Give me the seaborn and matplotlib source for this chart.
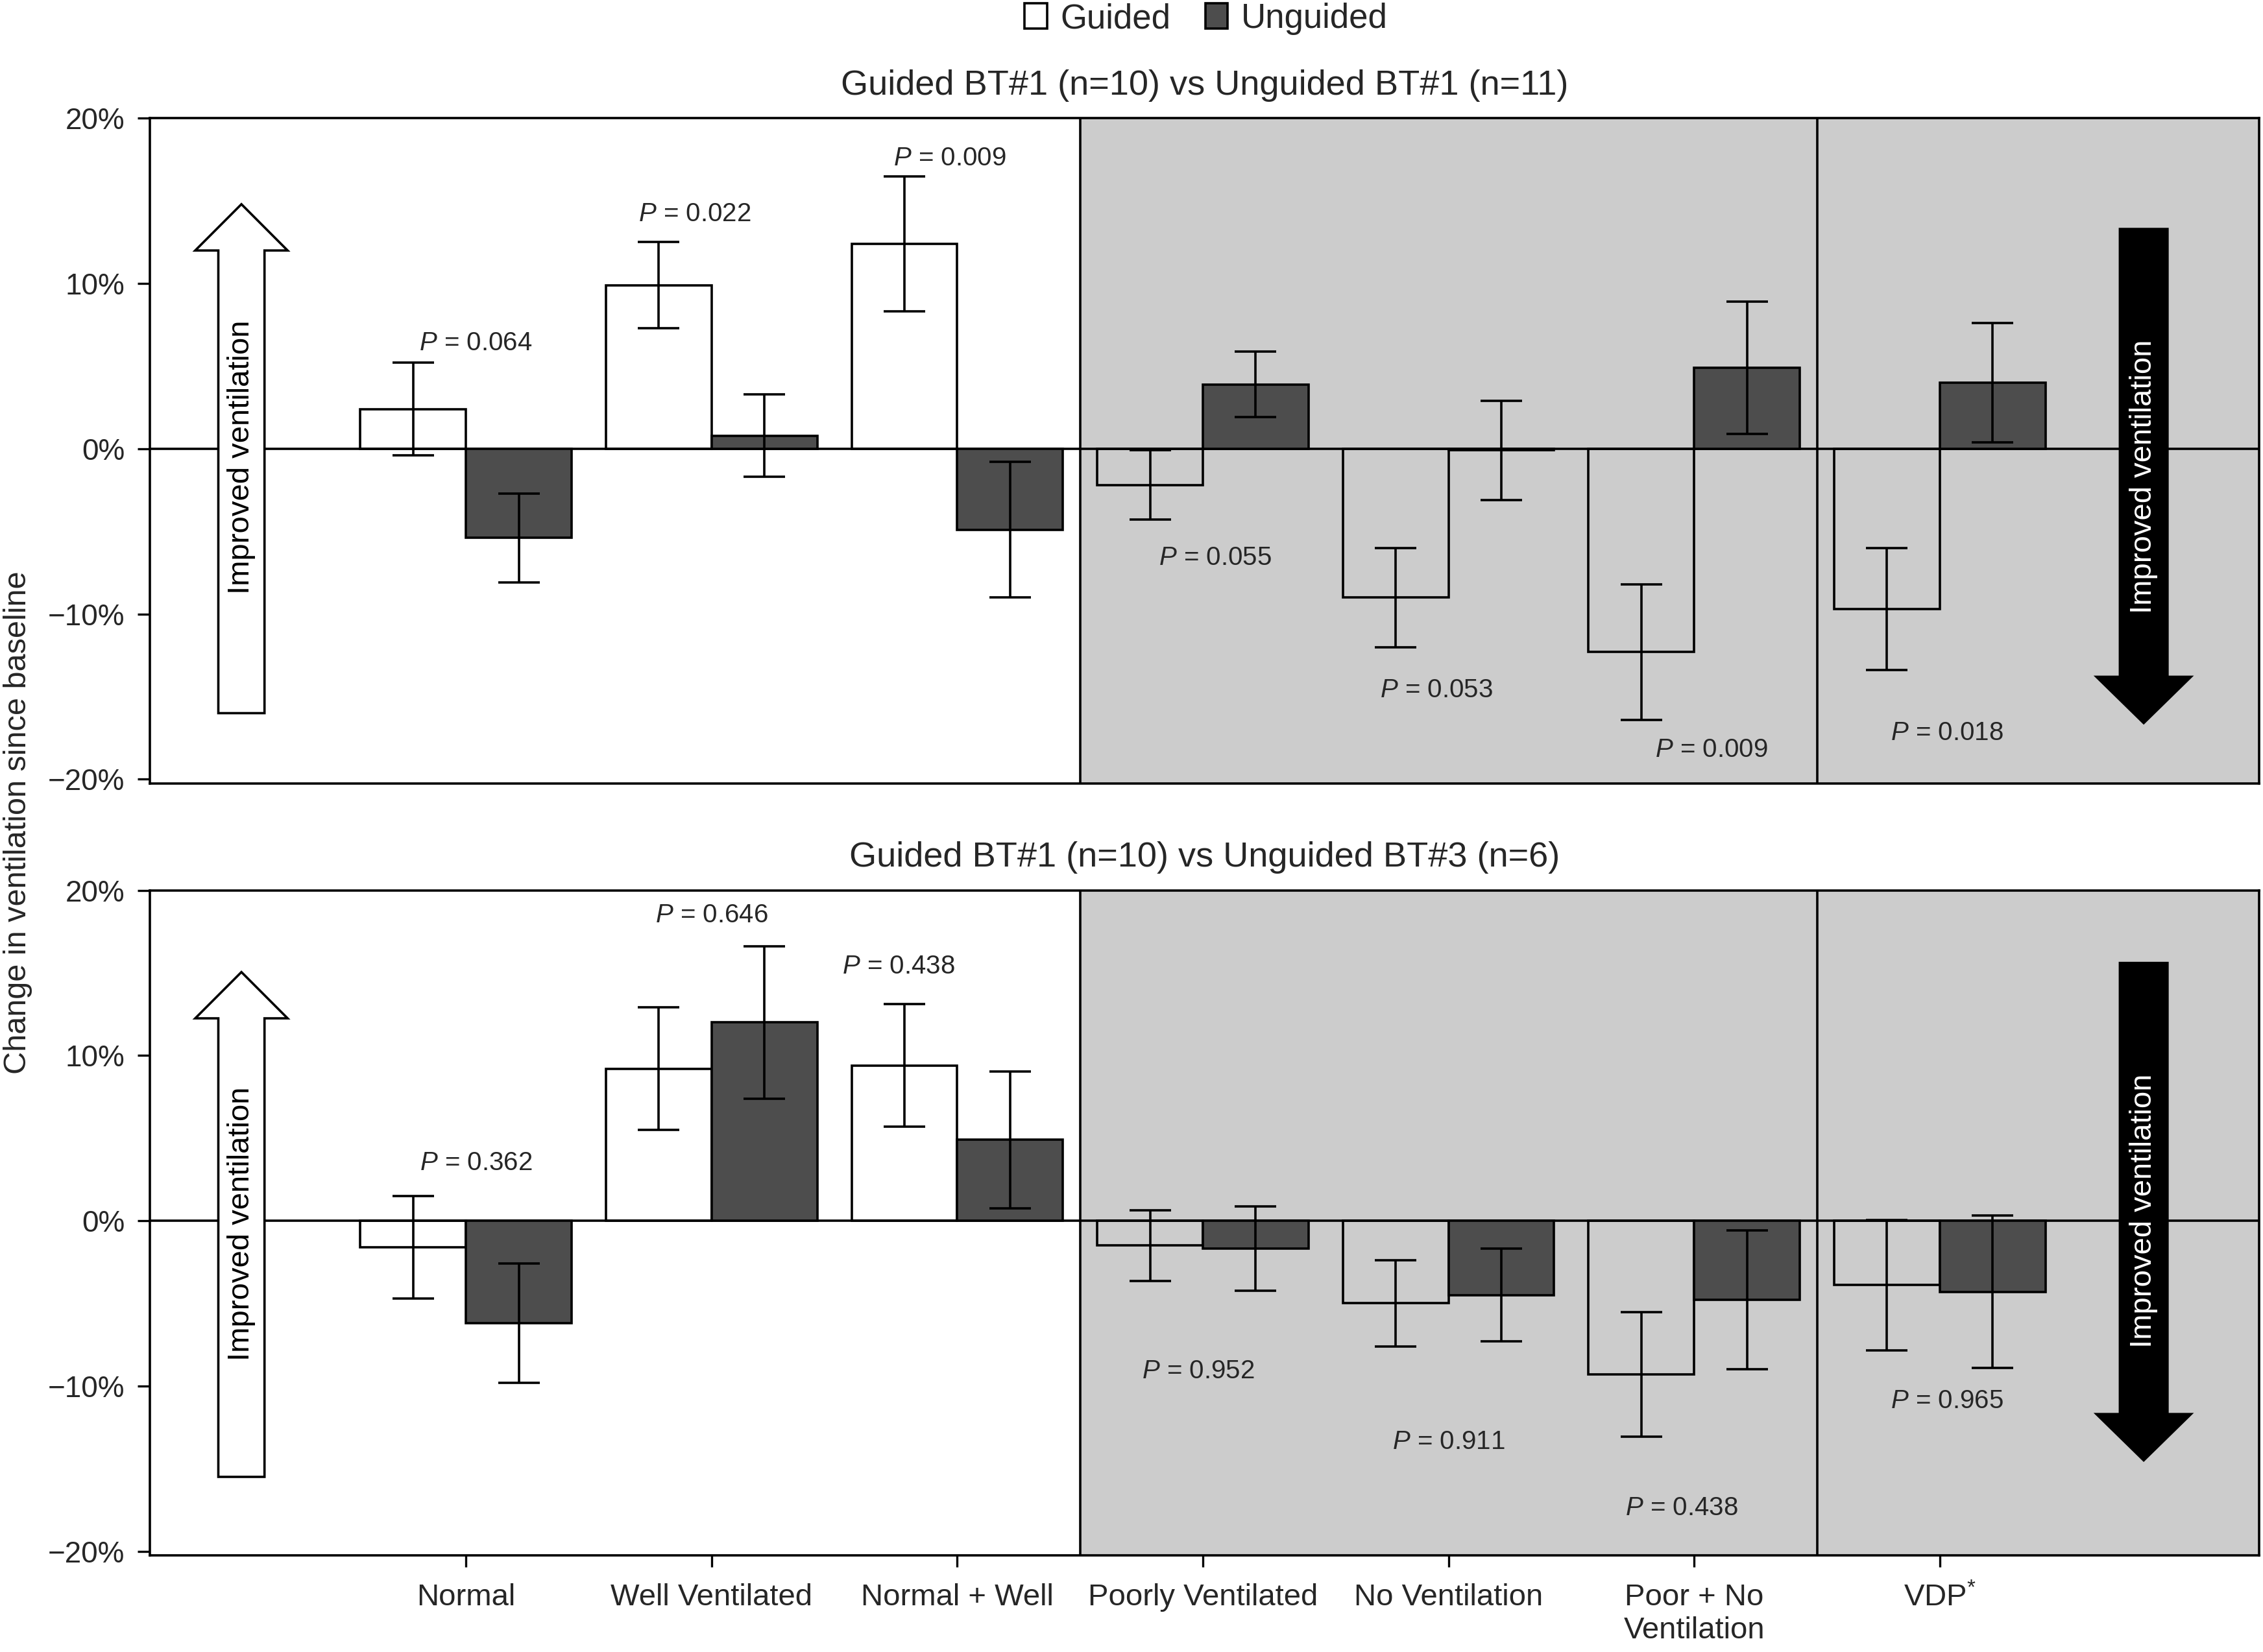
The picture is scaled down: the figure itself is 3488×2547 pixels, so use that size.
import matplotlib
matplotlib.use('Agg')
import pandas as pd
import matplotlib.pyplot as plt
from matplotlib.patches import Patch
from matplotlib.ticker import FuncFormatter
import seaborn as sns

sns.set_style('ticks')
plt.rcParams['font.family'] = ['Liberation Sans', 'DejaVu Sans']
plt.rcParams['mathtext.fontset'] = 'custom'
plt.rcParams['mathtext.rm'] = 'Liberation Sans'
plt.rcParams['mathtext.it'] = 'Liberation Sans:italic'

# categories
regions = ['Normal', 'Well Ventilated', 'Normal + Well', 'Poorly Ventilated',
           'No Ventilation', 'Poor + No\nVentilation', 'VDP$^{*}$']
groups = ['Guided', 'Unguided']

# top panel: Guided BT#1 vs Unguided BT#1 (% change since baseline)
top_guided = [2.4, 9.9, 12.4, -2.2, -9.0, -12.3, -9.7]
top_guided_err = [2.8, 2.6, 4.1, 2.1, 3.0, 4.1, 3.7]
top_unguided = [-5.4, 0.8, -4.9, 3.9, -0.1, 4.9, 4.0]
top_unguided_err = [2.7, 2.5, 4.1, 2.0, 3.0, 4.0, 3.6]
top_pvals = ['0.064', '0.022', '0.009', '0.055', '0.053', '0.009', '0.018']

# bottom panel: Guided BT#1 vs Unguided BT#3
bot_guided = [-1.6, 9.2, 9.4, -1.5, -5.0, -9.3, -3.9]
bot_guided_err = [3.1, 3.7, 3.7, 2.15, 2.6, 3.75, 3.95]
bot_unguided = [-6.2, 12.0, 4.9, -1.7, -4.5, -4.8, -4.3]
bot_unguided_err = [3.6, 4.6, 4.15, 2.55, 2.8, 4.2, 4.6]
bot_pvals = ['0.362', '0.646', '0.438', '0.952', '0.911', '0.438', '0.965']

# where the p-value labels sit (x offset from category, y in %)
top_p_pos = [(0.04, 6.4), (-0.07, 14.2), (-0.03, 17.6), (0.05, -6.6),
             (-0.05, -14.6), (0.07, -18.2), (0.03, -17.2)]
bot_p_pos = [(0.04, 3.5), (0.0, 18.5), (-0.24, 15.4), (-0.02, -9.1),
             (0.0, -13.4), (-0.05, -17.4), (0.03, -10.9)]

guided_color = 'white'
unguided_color = '#4d4d4d'
shade = '#cccccc'
lw = 1.3


def pct(v, pos):
    return f'{v:.0f}%'.replace('-', '\u2212')


def draw_panel(ax, guided, guided_err, unguided, unguided_err, pvals, p_pos,
               title, arrows, show_x):
    df = pd.DataFrame({'region': regions * 2,
                       'group': ['Guided'] * 7 + ['Unguided'] * 7,
                       'change': guided + unguided})
    ax.axvspan(2.5, 8, color=shade, zorder=0, lw=0)
    ax.axvline(2.5, color='black', lw=lw, zorder=0.5)
    ax.axvline(5.5, color='black', lw=lw, zorder=0.5)
    ax.axhline(0, color='black', lw=lw, zorder=1)
    sns.barplot(data=df, x='region', y='change', hue='group', order=regions,
                hue_order=groups, palette={'Guided': guided_color, 'Unguided': unguided_color},
                saturation=1, edgecolor='black', linewidth=lw, width=0.86,
                errorbar=None, legend=False, ax=ax, zorder=3)
    for cont, vals, errs in zip(ax.containers, [guided, unguided], [guided_err, unguided_err]):
        xs = [b.get_x() + b.get_width() / 2 for b in cont]
        ax.errorbar(xs, vals, yerr=errs, fmt='none', ecolor='black',
                    elinewidth=lw, capsize=11.5, capthick=lw, zorder=4)
    # guided bars are open boxes
    for b in ax.containers[0]:
        b.set_facecolor('none')

    for i, (p, (dx, y)) in enumerate(zip(pvals, p_pos)):
        ax.text(i + dx, y, r'$\mathit{P}$ = ' + p, ha='center', va='center',
                fontsize=14.5, zorder=5)

    # "Improved ventilation" arrows
    (lx, ly0, ly1, lty), (rx, ry0, ry1, rty) = arrows
    ax.arrow(lx, ly0, 0, ly1 - ly0, width=0.188, head_width=0.376, head_length=2.8,
             length_includes_head=True, fc='white', ec='black', lw=lw, zorder=4)
    ax.arrow(rx, ry0, 0, ry1 - ry0, width=0.194, head_width=0.385, head_length=2.8,
             length_includes_head=True, fc='black', ec='black', lw=lw, zorder=4)
    ax.text(lx, lty, 'Improved ventilation', rotation=90,
            ha='center', va='center', fontsize=17, color='black', zorder=5)
    ax.text(rx, rty, 'Improved ventilation', rotation=90,
            ha='center', va='center', fontsize=17, color='white', zorder=5)

    ax.set_xlim(-1.286, 7.30)
    ax.set_ylim(-20.25, 20)
    ax.set_yticks([-20, -10, 0, 10, 20])
    ax.yaxis.set_major_formatter(FuncFormatter(pct))
    ax.set_xlabel('')
    ax.set_ylabel('')
    ax.set_title(title, fontsize=19.5, pad=13)
    for s in ax.spines.values():
        s.set_visible(True)
        s.set_linewidth(lw)
        s.set_color('black')
        s.set_zorder(6)
    ax.tick_params(axis='y', length=7, width=1.2, labelsize=16.5, pad=7, color='black')
    if show_x:
        ax.tick_params(axis='x', length=6.5, width=1.2, labelsize=17, pad=9, color='black')
    else:
        ax.tick_params(axis='x', length=0, labelbottom=False)


fig = plt.figure(figsize=(17.44, 12.735), dpi=200)
ax1 = fig.add_axes([0.0663, 0.5258, 0.9320, 0.4026])
ax2 = fig.add_axes([0.0663, 0.0585, 0.9320, 0.4026])

draw_panel(ax1, top_guided, top_guided_err, top_unguided, top_unguided_err,
           top_pvals, top_p_pos, 'Guided BT#1 (n=10) vs Unguided BT#1 (n=11)',
           [(-0.914, -16.0, 14.8, -0.5), (6.83, 13.3, -16.6, -1.7)], False)
draw_panel(ax2, bot_guided, bot_guided_err, bot_unguided, bot_unguided_err,
           bot_pvals, bot_p_pos, 'Guided BT#1 (n=10) vs Unguided BT#3 (n=6)',
           [(-0.914, -15.5, 15.05, -0.2), (6.83, 15.6, -14.5, 0.6)], True)

for lbl in ax2.get_xticklabels():
    lbl.set_linespacing(1.2)

handles = [Patch(facecolor=guided_color, edgecolor='black', lw=lw, label='Guided'),
           Patch(facecolor=unguided_color, edgecolor='black', lw=lw, label='Unguided')]
fig.legend(handles=handles, loc='upper center', bbox_to_anchor=(0.533, 1.017), ncol=2,
           frameon=False, fontsize=19, handlelength=0.65, handleheight=0.75,
           handletextpad=0.4, columnspacing=1.0)

fig.text(0.008, 0.502, 'Change in ventilation since baseline', rotation=90,
         ha='center', va='center', fontsize=17.5)

fig.savefig('out.png', dpi=200)
